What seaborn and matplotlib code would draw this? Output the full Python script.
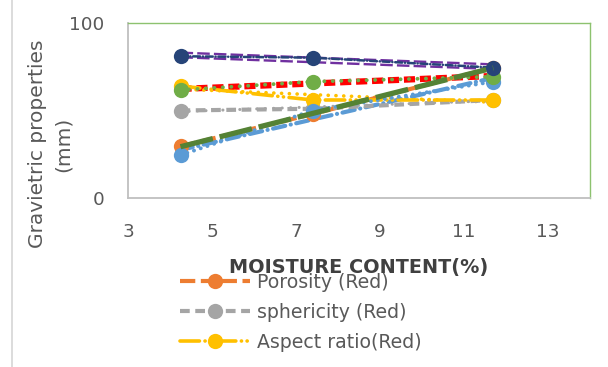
import matplotlib
matplotlib.use("Agg")
import matplotlib.pyplot as plt
from matplotlib.lines import Line2D
import seaborn as sns

# Moisture content (%) at which the samples were measured
moisture = [4.25, 7.4, 11.7]

# Gravimetric properties of the red variety
porosity = [29.5, 48, 74.5]
sphericity = [50, 51, 56]
aspect_ratio = [64, 56, 56]
series_4 = [24.5, 50, 66.5]
series_5 = [61.7, 66.5, 69.3]
series_6 = [81, 80.2, 74.5]

labels = ["Porosity (Red)", "sphericity (Red)", "Aspect ratio(Red)"]
x_ticks = [3, 5, 7, 9, 11, 13]
y_ticks = [0, 100]

sns.set_theme(style="white")
plt.rcParams["font.family"] = ["DejaVu Sans"]
plt.rcParams["lines.scale_dashes"] = False

fig = plt.figure(figsize=(6.08, 3.67), dpi=100)
ax = fig.add_axes([128 / 608, 1 - 198 / 367, 462 / 608, 175 / 367])


def trend(values, color, lw, dash, z, cap="butt"):
    sns.regplot(x=moisture, y=values, ax=ax, scatter=False, ci=None, truncate=True,
                line_kws=dict(color=color, lw=lw, linestyle=(0, dash), zorder=z,
                              dash_capstyle=cap))


def series(values, color, lw, dash, z, label=None, cap="butt"):
    sns.lineplot(x=moisture, y=values, ax=ax, color=color, lw=lw,
                 linestyle=(0, dash), marker="o", markersize=11,
                 markeredgewidth=0, dash_capstyle=cap, zorder=z,
                 label=label, legend=False)


# linear trend lines
trend(series_6, "#7030A0", 5.0, (9, 3), 2)
trend(series_6, "white", 1.6, (9, 3), 2.1)
trend(series_5, "#FF0000", 4.5, (8, 3.5), 2)
trend(aspect_ratio, "#FFC000", 2.6, (0.1, 5.5), 2, cap="round")
trend(sphericity, "#A5A5A5", 2.2, (0.1, 6), 2, cap="round")
trend(series_4, "#5B9BD5", 3.0, (9, 4, 0.1, 4), 3, cap="round")

# measured series
series(porosity, "#ED7D31", 3.0, (11, 4), 3, label=labels[0])
series(sphericity, "#A5A5A5", 3.0, (7, 4), 3, label=labels[1])
series(aspect_ratio, "#FFC000", 2.6, (14, 4, 0.1, 4, 0.1, 4), 3, label=labels[2], cap="round")
series(series_4, "#5B9BD5", 2.8, (0.1, 5), 3, cap="round")
series(series_5, "#70AD47", 2.8, (0.1, 6), 3, cap="round")
series(series_6, "#264478", 1.8, (5, 2, 0.1, 2), 3, cap="round")

# porosity trend drawn above its series
trend(porosity, "#548235", 3.8, (24, 5), 3.5)

ax.set_xlim(3, 14)
ax.set_ylim(0, 100)
ax.set_xticks(x_ticks)
ax.set_yticks(y_ticks)
ax.tick_params(length=0, labelsize=13.2, colors="#595959")
ax.tick_params(axis="x", pad=18)
ax.tick_params(axis="y", pad=17)

for side in ("left", "bottom"):
    ax.spines[side].set_color("#BFBFBF")
    ax.spines[side].set_linewidth(1.3)
for side in ("top", "right"):
    ax.spines[side].set_color("#8DC26F")
    ax.spines[side].set_linewidth(1.0)

ax.set_xlabel("MOISTURE CONTENT(%)", fontsize=13.9, fontweight="bold", color="#404040")
ax.xaxis.set_label_coords(0.5, -0.40)
ax.xaxis.label.set_va("center")
ax.set_ylabel("Gravietric properties\n(mm)", fontsize=14.5, color="#595959",
              linespacing=1.45)
ax.yaxis.set_label_coords(-0.169, 0.309)
ax.yaxis.label.set_va("center")

handles = [l for l in ax.get_lines() if l.get_label() in labels]
leg = fig.legend(handles=handles, labels=labels, loc="upper left",
                 bbox_to_anchor=(180 / 608, 1 - 273 / 367), frameon=False,
                 fontsize=13.6, handlelength=3.7, handletextpad=0.37,
                 labelspacing=0.58, borderpad=0, borderaxespad=0,
                 labelcolor="#595959")
leg.set_zorder(0)

# page border to the left of the chart
fig.add_artist(Line2D([12 / 608, 12 / 608], [0, 1], transform=fig.transFigure,
                      color="#D9D9D9", lw=1.3))

fig.savefig("out.png", dpi=100)
